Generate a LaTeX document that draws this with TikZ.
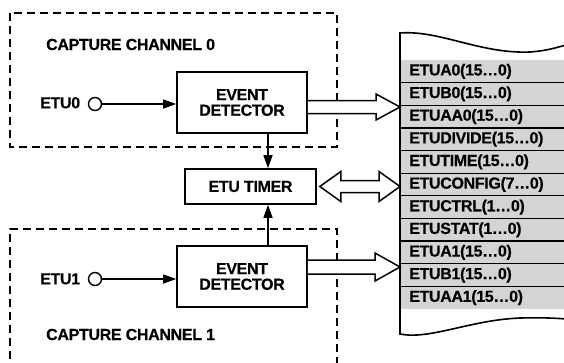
\documentclass[tikz,border=0pt]{standalone}
\usepackage{fontspec}
\setmainfont[BoldFeatures={FakeBold=0.4,LetterSpace=-2.0}]{Liberation Sans}
\usetikzlibrary{arrows.meta,calc}
\definecolor{regfill}{RGB}{212,212,212}
\newcommand\lblfont{\fontsize{16}{15.6}\selectfont\bfseries}
\begin{document}
\begin{tikzpicture}[x=1pt,y=-1pt,
  blk/.style={draw, line width=1.6pt, fill=white, align=center, font=\lblfont, inner sep=0pt},
  dbox/.style={line width=1.4pt, dash pattern=on 8pt off 5pt},
  lbl/.style={font=\lblfont, inner sep=0pt},
  wire/.style={line width=1.4pt},
  tipped/.style={-{Triangle[length=13pt,width=9pt]}},
  fat/.style={line width=1.5pt, fill=white, line join=miter},
  reg/.style={font=\lblfont, inner sep=0pt, anchor=west},
  sep/.style={line width=1.3pt},
  panel/.style={line width=1.6pt}
]
\useasboundingbox (0,0) rectangle (564,362);
\fill[white] (0,0) rectangle (564,362);

% dashed capture channel frames
\draw[dbox] (10,13) rectangle (337,147);
\draw[dbox] (10,372) -- (10,229) -- (337,229) -- (337,372);

% labels
\node[lbl, anchor=base west] (cap0) at (46,50) {CAPTURE CHANNEL 0};
\node[lbl, anchor=base west] (cap1) at (46,340) {CAPTURE CHANNEL 1};
\node[lbl, anchor=base west] (etu0) at (40,108.3) {ETU0};
\node[lbl, anchor=base west] (etu1) at (40,284.3) {ETU1};
\node[draw, circle, line width=1.4pt, minimum size=13pt, inner sep=0pt] (c0) at (95,104) {};
\node[draw, circle, line width=1.4pt, minimum size=13pt, inner sep=0pt] (c1) at (95,279) {};

% blocks
\node[blk, minimum width=130pt, minimum height=61pt] (ed0) at (242,102.5) {EVENT\\DETECTOR};
\node[blk, minimum width=131pt, minimum height=35pt] (tmr) at (250.5,186.5) {ETU TIMER};
\node[blk, minimum width=130pt, minimum height=61pt] (ed1) at (242,276.5) {EVENT\\DETECTOR};

% thin arrows
\draw[wire,tipped] (c0) -- (ed0.west |- c0);
\draw[wire,tipped] (c1) -- (ed1.west |- c1);
\coordinate (ax) at (268,0);
\draw[wire,tipped] (ax |- ed0.south) -- (ax |- tmr.north);
\draw[wire,tipped] (ax |- ed1.north) -- (ax |- tmr.south);

% register panel
\fill[regfill] (400,60) rectangle (570,309);
\foreach \t [count=\i from 0] in {ETUA0(15…0),ETUB0(15…0),ETUAA0(15…0),ETUDIVIDE(15…0),ETUTIME(15…0),ETUCONFIG(7…0),ETUCTRL(1…0),ETUSTAT(1…0),ETUA1(15…0),ETUB1(15…0),ETUAA1(15…0)}
  \node[reg] (r\i) at (409,{60+22.636*(\i+0.5)}) {\t};
\foreach \k in {1,...,10}
  \draw[sep] (400,{60+22.636*\k}) -- (570,{60+22.636*\k});
\draw[panel] (566,45) .. controls (555,48) and (545,51) .. (530,52)
  .. controls (480,54) and (440,30) .. (400,33) -- (400,334)
  .. controls (430,340) and (470,320) .. (520,318)
  .. controls (540,317.5) and (555,318) .. (566,319);

% hollow bus arrows
\coordinate (p0) at (400,107);
\coordinate (p1) at (400,267);
\coordinate (pt) at (400,186.5);
\draw[fat] let \p1=(ed0.east |- p0), \p2=(p0) in
  (\x1,\y1+6.5pt) -- (\x2-24pt,\y1+6.5pt) -- (\x2-24pt,\y1+13pt) -- (\x2,\y2)
  -- (\x2-24pt,\y1-13pt) -- (\x2-24pt,\y1-6.5pt) -- (\x1,\y1-6.5pt);
\draw[fat] let \p1=(ed1.east |- p1), \p2=(p1) in
  (\x1,\y1+7pt) -- (\x2-25pt,\y1+7pt) -- (\x2-25pt,\y1+14pt) -- (\x2,\y2)
  -- (\x2-25pt,\y1-14pt) -- (\x2-25pt,\y1-7pt) -- (\x1,\y1-7pt);
\draw[fat] let \p1=(tmr.east), \p2=(pt) in
  (\x1+3pt,\y2) -- (\x1+24pt,\y2+15pt) -- (\x1+24pt,\y2+6pt) -- (\x2-21pt,\y2+6pt)
  -- (\x2-21pt,\y2+15pt) -- (\x2,\y2) -- (\x2-21pt,\y2-15pt) -- (\x2-21pt,\y2-6pt)
  -- (\x1+24pt,\y2-6pt) -- (\x1+24pt,\y2-15pt) -- cycle;
\end{tikzpicture}
\end{document}
